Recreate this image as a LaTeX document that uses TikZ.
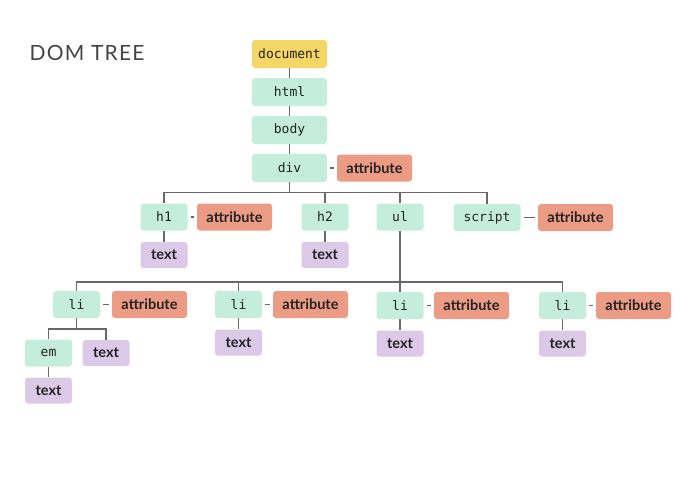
\documentclass[tikz,border=0pt]{standalone}
\usepackage{fontspec}
\newfontfamily\titlefont[LetterSpace=6]{Lato}
\newfontfamily\lblfont{Lato}
\newfontfamily\codefont{DejaVu Sans Mono}
\definecolor{cyel}{RGB}{244,214,102}
\definecolor{cgrn}{RGB}{196,238,219}
\definecolor{catt}{RGB}{236,156,132}
\definecolor{ctxt}{RGB}{220,200,231}
\definecolor{cline}{RGB}{105,105,105}
\definecolor{cink}{RGB}{35,35,35}
\begin{document}
\begin{tikzpicture}[x=1pt,y=-1pt,
  box/.style={rounded corners=3pt, inner sep=0pt, text=cink},
  codef/.style={font=\codefont\fontsize{13}{15}\selectfont},
  lblf/.style={font=\lblfont\bfseries\fontsize{14.5}{16}\selectfont},
  docbox/.style={box, codef, fill=cyel, minimum width=75pt, minimum height=28pt},
  tagbig/.style={box, codef, fill=cgrn, minimum width=75pt, minimum height=28pt},
  tag/.style={box, codef, fill=cgrn, minimum width=47pt, minimum height=27pt},
  attr/.style={box, lblf, fill=catt, minimum width=75pt, minimum height=27pt},
  txt/.style={box, lblf, fill=ctxt, minimum width=47pt, minimum height=26pt},
  conn/.style={draw=cline, line width=1.6pt},
  aconn/.style={conn, shorten <=3pt, shorten >=3pt}]
\useasboundingbox (0,0) rectangle (700,480);
\node[anchor=west, text=cink!85, font=\titlefont\fontsize{21}{24}\selectfont] (title) at (26,52.5) {DOM TREE};
% top column
\node[docbox] (doc) at (289.5,54) {document};
\node[tagbig] (html) at (289.5,92) {html};
\node[tagbig] (body) at (289.5,130) {body};
\node[tagbig] (div) at (289.5,168) {div};
\node[attr] (adiv) at (374.5,168) {attribute};
% row 2
\node[tag] (h1) at (164,217) {h1};
\node[attr] (ah1) at (234.5,217) {attribute};
\node[txt] (th1) at (164,255) {text};
\node[tag] (h2) at (325,217) {h2};
\node[txt] (th2) at (325,255) {text};
\node[tag] (ul) at (400,217) {ul};
\node[tag, minimum width=67pt] (script) at (487,217.5) {script};
\node[attr] (ascript) at (575.5,217.5) {attribute};
% row 3
\node[tag] (li1) at (76.5,304.5) {li};
\node[attr] (ali1) at (149.5,304.5) {attribute};
\node[tag] (em) at (48.5,353) {em};
\node[txt] (tli1) at (106,353) {text};
\node[txt] (tem) at (48.5,390.5) {text};
\node[tag] (li2) at (238.5,304.5) {li};
\node[attr] (ali2) at (310.5,304.5) {attribute};
\node[txt] (tli2) at (238.5,342.5) {text};
\node[tag] (li3) at (400,305.5) {li};
\node[attr] (ali3) at (471.5,305.5) {attribute};
\node[txt] (tli3) at (400,343.5) {text};
\node[tag] (li4) at (562.5,305.5) {li};
\node[attr] (ali4) at (633.5,305.5) {attribute};
\node[txt] (tli4) at (562.5,343.5) {text};
% buses
\coordinate (bus1) at (289.5,192.5);
\coordinate (bus2) at (400,282);
\coordinate (bus3) at (76.5,329);
% connectors
\path[conn] (doc) -- (html);
\path[conn] (html) -- (body);
\path[conn] (body) -- (div);
\path[aconn] (div) -- (adiv);
\path[conn] (div.south) -- (bus1);
\path[conn] (h1.north) |- (bus1);
\path[conn] (h2.north) |- (bus1);
\path[conn] (ul.north) |- (bus1);
\path[conn] (script.north) |- (bus1);
\path[aconn] (h1) -- (ah1);
\path[aconn] (script) -- (ascript);
\path[conn] (h1) -- (th1);
\path[conn] (h2) -- (th2);
\path[conn] (ul.south) -- (bus2);
\path[conn] (li1.north) |- (bus2);
\path[conn] (li2.north) |- (bus2);
\path[conn] (li3.north) -- (bus2);
\path[conn] (li4.north) |- (bus2);
\path[aconn] (li1) -- (ali1);
\path[aconn] (li2) -- (ali2);
\path[aconn] (li3) -- (ali3);
\path[aconn] (li4) -- (ali4);
\path[conn] (li1.south) -- (bus3);
\path[conn] (em.north) |- (bus3);
\path[conn] (tli1.north) |- (bus3);
\path[conn] (em) -- (tem);
\path[conn] (li2) -- (tli2);
\path[conn] (li3) -- (tli3);
\path[conn] (li4) -- (tli4);
\end{tikzpicture}
\end{document}
